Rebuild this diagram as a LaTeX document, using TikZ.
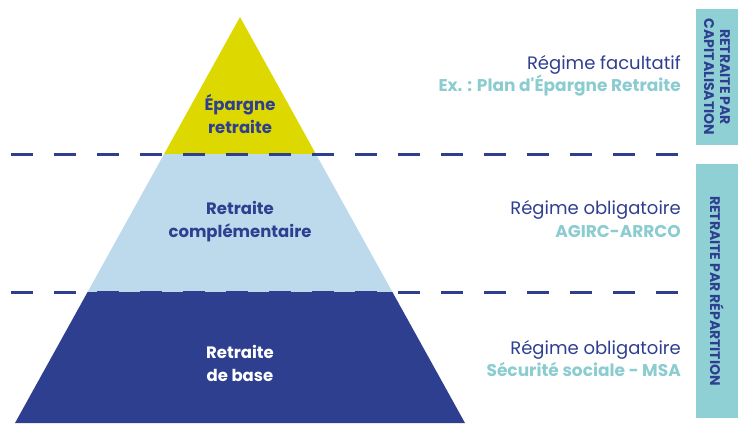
\documentclass[tikz,border=0pt]{standalone}
\usepackage{fontspec}
\setmainfont{Poppins}
\definecolor{jaune}{HTML}{DCD800}
\definecolor{bleuclair}{HTML}{BCDAEB}
\definecolor{bleufonce}{HTML}{2F3F90}
\definecolor{turquoise}{HTML}{8FD0D5}
\definecolor{turquoisetexte}{HTML}{8BCCD0}
\begin{document}
\begin{tikzpicture}[x=1pt,y=-1pt,
	etage/.style={font=\bfseries\fontsize{16.5}{23}\selectfont,align=center,text=bleufonce},
	regime/.style={anchor=mid east,inner sep=0pt,font=\fontsize{18}{20}\selectfont,text=bleufonce},
	exemple/.style={anchor=mid east,inner sep=0pt,font=\bfseries\fontsize{17}{20}\selectfont,text=turquoisetexte},
	bandeau/.style={fill=turquoise,rotate=-90,minimum height=42pt,inner sep=0pt,align=center,
		font=\bfseries\fontsize{14}{16}\selectfont,text=bleufonce},
	tirets/.style={bleufonce,line width=3pt,dash pattern=on 22pt off 21pt}]
	\useasboundingbox (0,0) rectangle (738,423);
	% sommets de la pyramide
	\coordinate (sommet) at (240,17);
	\coordinate (hg) at (164.1,154); \coordinate (hd) at (315.9,154);
	\coordinate (mg) at (87.6,292);  \coordinate (md) at (392.4,292);
	\coordinate (bg) at (15,423);    \coordinate (bd) at (465,423);
	\fill[jaune] (sommet) -- (hd) -- (hg) -- cycle;
	\fill[bleuclair] (hg) -- (hd) -- (md) -- (mg) -- cycle;
	\fill[bleufonce] (mg) -- (md) -- (bd) -- (bg) -- cycle;
	% séparations
	\coordinate (t1g) at (11,154); \coordinate (t1d) at (682,154);
	\coordinate (t2g) at (11,292); \coordinate (t2d) at (682,292);
	\draw[tirets] (t1g) -- (t1d);
	\draw[tirets] (t2g) -- (t2d);
	% étages
	\node[etage] (epargne) at (240,114) {Épargne\\retraite};
	\node[etage] (complementaire) at (240,222) {Retraite\\complémentaire};
	\node[etage,text=white] (base) at (240,363) {Retraite\\de base};
	% régimes
	\node[regime] (facultatif) at (681,67) {Régime facultatif};
	\node[exemple] (per) at (681,89) {Ex. : Plan d\textquotesingle Épargne Retraite};
	\node[regime] (obligatoire1) at (681,212) {Régime obligatoire};
	\node[exemple] (agirc) at (681,235) {AGIRC-ARRCO};
	\node[regime] (obligatoire2) at (681,352) {Régime obligatoire};
	\node[exemple] (msa) at (681,374) {Sécurité sociale - MSA};
	% bandeaux
	\node[bandeau,minimum width=136pt] (capitalisation) at (717,77) {RETRAITE PAR\\CAPITALISATION};
	\node[bandeau,minimum width=254pt] (repartition) at (717,291) {RETRAITE PAR RÉPARTITION};
\end{tikzpicture}
\end{document}
